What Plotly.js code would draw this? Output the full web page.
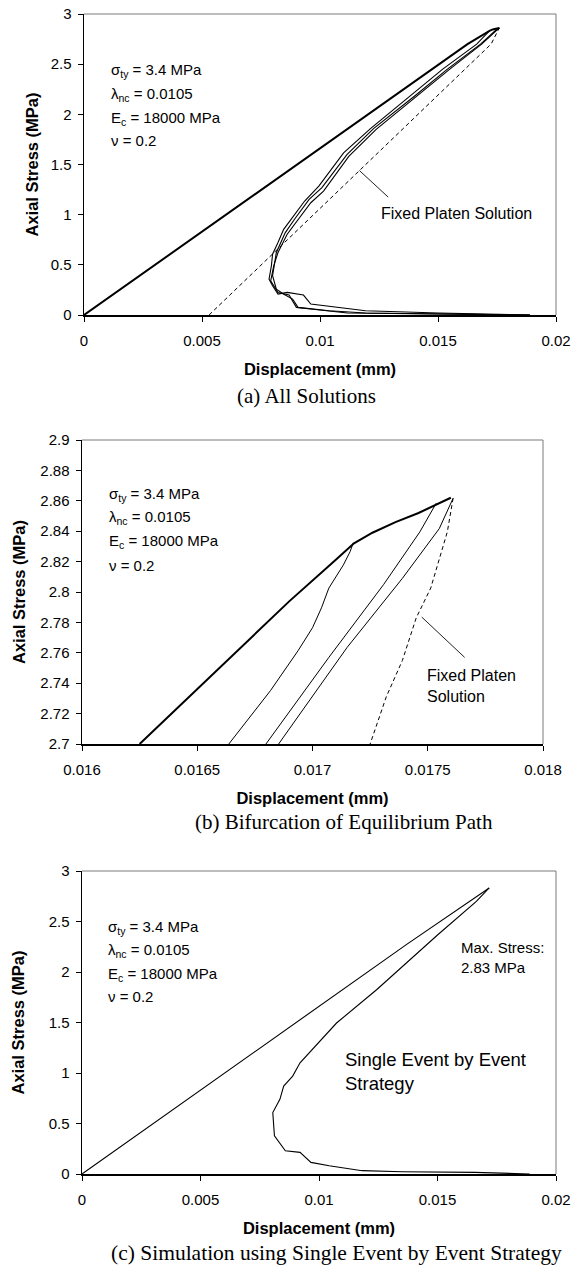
<!DOCTYPE html>
<html>
<head>
<meta charset="utf-8">
<script src="https://cdn.plot.ly/plotly-3.0.1.min.js"></script>
<style>html,body{margin:0;padding:0;background:#fff;}#chart{width:573px;height:1269px;}</style>
</head>
<body>
<div id="chart"></div>
<script>
// ---------- Tick labels ----------
const xTicksA = [0, 0.005, 0.01, 0.015, 0.02];
const xTickTextA = ['0', '0.005', '0.01', '0.015', '0.02'];
const yTicksA = [0, 0.5, 1, 1.5, 2, 2.5, 3];
const yTickTextA = ['0', '0.5', '1', '1.5', '2', '2.5', '3'];
const xTicksB = [0.016, 0.0165, 0.017, 0.0175, 0.018];
const xTickTextB = ['0.016', '0.0165', '0.017', '0.0175', '0.018'];
const yTicksB = [2.7, 2.72, 2.74, 2.76, 2.78, 2.8, 2.82, 2.84, 2.86, 2.88, 2.9];
const yTickTextB = ['2.7', '2.72', '2.74', '2.76', '2.78', '2.8', '2.82', '2.84', '2.86', '2.88', '2.9'];

// ---------- Panel (a): All Solutions ----------
const loadA_x = [0, 0.01625, 0.01718, 0.01732, 0.01754, 0.0176];
const loadA_y = [0, 2.7, 2.832, 2.846, 2.858, 2.862];
const softA1_x = [0.01718, 0.01664, 0.0152, 0.0138, 0.01215, 0.0110, 0.00995, 0.00935, 0.00886, 0.00846, 0.00822, 0.00799, 0.00794, 0.00784, 0.00799, 0.00822, 0.00861, 0.00930, 0.00961, 0.01039, 0.01193, 0.01502, 0.01889];
const softA1_y = [2.832, 2.7, 2.45, 2.18, 1.86, 1.616, 1.285, 1.136, 0.987, 0.854, 0.722, 0.606, 0.490, 0.358, 0.291, 0.209, 0.225, 0.199, 0.109, 0.086, 0.043, 0.020, 0];
const softA2_x = [0.01754, 0.0168, 0.0154, 0.0140, 0.01228, 0.01115, 0.01008, 0.00954, 0.00892, 0.00853, 0.00815, 0.00807, 0.00799, 0.00815, 0.00845, 0.00884, 0.00907, 0.01039, 0.01193, 0.01889];
const softA2_y = [2.858, 2.7, 2.45, 2.18, 1.86, 1.60, 1.27, 1.152, 0.954, 0.821, 0.623, 0.490, 0.391, 0.258, 0.209, 0.159, 0.076, 0.043, 0.020, 0];
const softA3_x = [0.0176, 0.01685, 0.0155, 0.0141, 0.01238, 0.01122, 0.01015, 0.00961, 0.00899, 0.00861, 0.00822, 0.00804, 0.00791, 0.00822, 0.00869, 0.00900, 0.00961, 0.01116, 0.01889];
const softA3_y = [2.862, 2.7, 2.45, 2.18, 1.85, 1.58, 1.235, 1.119, 0.921, 0.805, 0.623, 0.490, 0.341, 0.225, 0.199, 0.076, 0.060, 0.020, 0];
const fixedA_x = [0.0053, 0.01725, 0.0176];
const fixedA_y = [0, 2.7, 2.862];

// ---------- Panel (b): Bifurcation of Equilibrium Path ----------
const loadB_x = [0.01625, 0.0169, 0.0171, 0.01718, 0.01726, 0.01736, 0.01746, 0.01754, 0.0176];
const loadB_y = [2.7, 2.794, 2.821, 2.832, 2.839, 2.846, 2.852, 2.858, 2.862];
const br1B_x = [0.017177, 0.017163, 0.017134, 0.017071, 0.017039, 0.017000, 0.016937, 0.016818, 0.016637];
const br1B_y = [2.8324, 2.8265, 2.8178, 2.8026, 2.7896, 2.7765, 2.7613, 2.7352, 2.7];
const br2B_x = [0.017537, 0.017466, 0.017308, 0.017071, 0.016798];
const br2B_y = [2.8585, 2.8396, 2.8048, 2.757, 2.7];
const br3B_x = [0.01761, 0.01755, 0.01739, 0.01715, 0.016853];
const br3B_y = [2.8617, 2.8417, 2.809, 2.7635, 2.7];
const fixedB_x = [0.01761, 0.017585, 0.017513, 0.01745, 0.01739, 0.01732, 0.01725];
const fixedB_y = [2.8617, 2.8396, 2.8026, 2.783, 2.755, 2.731, 2.7];

// ---------- Panel (c): Single Event by Event Strategy ----------
const loadC_x = [0, 0.01236, 0.0137, 0.01718];
const loadC_y = [0, 2.054, 2.274, 2.832];
const softC_x = [0.01718, 0.01664, 0.0150, 0.01243, 0.01074, 0.00982, 0.00920, 0.00889, 0.00851, 0.00835, 0.00805, 0.00809, 0.00812, 0.00858, 0.00920, 0.00966, 0.01043, 0.01182, 0.01351, 0.01658, 0.01889];
const softC_y = [2.832, 2.7, 2.366, 1.824, 1.495, 1.265, 1.101, 0.969, 0.871, 0.739, 0.608, 0.476, 0.378, 0.230, 0.214, 0.115, 0.082, 0.033, 0.023, 0.016, 0];

const paramLines = ['σ<sub>ty</sub> = 3.4 MPa', 'λ<sub>nc</sub> = 0.0105', 'E<sub>c</sub> = 18000 MPa', 'ν = 0.2'];

const SANS = '"Liberation Sans", Arial, sans-serif';
const SERIF = '"Liberation Serif", "Times New Roman", serif';
const W = 573, H = 1269;

function line(x, y, xa, ya, width, dash) {
  return {x: x, y: y, xaxis: xa, yaxis: ya, type: 'scatter', mode: 'lines',
          line: {color: '#000', width: width, dash: dash || 'solid'}, hoverinfo: 'skip', showlegend: false};
}

const DASH = '4px,3px';
const data = [
  line(loadA_x, loadA_y, 'x', 'y', 2),
  line(softA1_x, softA1_y, 'x', 'y', 1.1),
  line(softA2_x, softA2_y, 'x', 'y', 1.1),
  line(softA3_x, softA3_y, 'x', 'y', 1.1),
  line(fixedA_x, fixedA_y, 'x', 'y', 1, DASH),
  line(loadB_x, loadB_y, 'x2', 'y2', 2),
  line(br1B_x, br1B_y, 'x2', 'y2', 1),
  line(br2B_x, br2B_y, 'x2', 'y2', 1),
  line(br3B_x, br3B_y, 'x2', 'y2', 1),
  line(fixedB_x, fixedB_y, 'x2', 'y2', 1, DASH),
  line(loadC_x, loadC_y, 'x3', 'y3', 1.1),
  line(softC_x, softC_y, 'x3', 'y3', 1.1)
];

function dom(a, b) { return [a / W, b / W]; }
function ydom(top, bottom) { return [(H - bottom) / H, (H - top) / H]; }
function py(px) { return 1 - px / H; }

function xaxis(domain, range, tv, tt, anchor, standoff) {
  return {domain: domain, range: range, anchor: anchor, tickvals: tv, ticktext: tt,
          showgrid: false, zeroline: false, showline: true, linecolor: '#000', linewidth: 1.5,
          ticks: 'outside', ticklen: 5, tickwidth: 1, tickcolor: '#000',
          tickfont: {family: SANS, size: 15, color: '#000'}, ticklabelstandoff: 6,
          title: {text: '<b>Displacement (mm)</b>', font: {family: SANS, size: 16.5, color: '#000'}, standoff: standoff},
          fixedrange: true};
}
function yaxis(domain, range, tv, tt, anchor, standoff) {
  return {domain: domain, range: range, anchor: anchor, tickvals: tv, ticktext: tt,
          showgrid: false, zeroline: false, showline: true, linecolor: '#000', linewidth: 1.5,
          ticks: 'outside', ticklen: 5, tickwidth: 1, tickcolor: '#000',
          tickfont: {family: SANS, size: 15, color: '#000'}, ticklabelstandoff: 3,
          title: {text: '<b>Axial Stress (MPa)</b>', font: {family: SANS, size: 16.5, color: '#000'}, standoff: standoff},
          fixedrange: true};
}

function frame(xr, yr) {
  return [
    {type: 'line', xref: xr + ' domain', yref: yr + ' domain', x0: 0, x1: 1, y0: 1, y1: 1, line: {color: '#7a7a7a', width: 1}},
    {type: 'line', xref: xr + ' domain', yref: yr + ' domain', x0: 1, x1: 1, y0: 0, y1: 1, line: {color: '#7a7a7a', width: 1}}
  ];
}

const shapes = [].concat(frame('x', 'y'), frame('x2', 'y2'), frame('x3', 'y3'), [
  {type: 'line', xref: 'x', yref: 'y', x0: 0.01167, y0: 1.44, x1: 0.01289, y1: 1.175, line: {color: '#222', width: 1}},
  {type: 'line', xref: 'x2', yref: 'y2', x0: 0.017474, y0: 2.7835, x1: 0.01766, y1: 2.757, line: {color: '#222', width: 1}}
]);

function note(text, x, y, xr, yr, size, xanchor, family) {
  return {text: text, x: x, y: y, xref: xr, yref: yr, showarrow: false, align: 'left',
          xanchor: xanchor || 'left', yanchor: 'middle',
          font: {family: family || SANS, size: size, color: '#000'}};
}

const annotations = [];
function params(xpx, ys) {
  paramLines.forEach(function (t, i) {
    annotations.push(note(t, xpx / W, py(ys[i]), 'paper', 'paper', 15));
  });
}
params(109, [71, 94, 118, 140]);
params(107, [494, 518, 542, 565]);
params(106, [927, 950, 974, 996]);

annotations.push(
  note('Fixed Platen Solution', 0.0158, 1.01, 'x', 'y', 16, 'center'),
  note('Fixed Platen<br>Solution', 0.01749, 2.738, 'x2', 'y2', 16),
  note('Max. Stress:<br>2.83 MPa', 0.01592, 2.14, 'x3', 'y3', 15),
  note('Single Event by Event<br>Strategy', 0.0110, 1.01, 'x3', 'y3', 18.5),
  note('(a) All Solutions', 306 / W, py(396), 'paper', 'paper', 21, 'center', SERIF),
  note('(b) Bifurcation of Equilibrium Path', 344 / W, py(822), 'paper', 'paper', 21, 'center', SERIF),
  note('(c) Simulation using Single Event by Event Strategy', 336 / W, py(1253), 'paper', 'paper', 21.5, 'center', SERIF)
);

const layout = {
  width: W, height: H,
  margin: {l: 0, r: 0, t: 0, b: 0},
  paper_bgcolor: '#fff', plot_bgcolor: '#fff',
  showlegend: false,
  xaxis: xaxis(dom(84, 556), [0, 0.02], xTicksA, xTickTextA, 'y', 16),
  yaxis: yaxis(ydom(14, 315), [0, 3], yTicksA, yTickTextA, 'x', 8),
  xaxis2: xaxis(dom(82, 543), [0.016, 0.018], xTicksB, xTickTextB, 'y2', 16),
  yaxis2: yaxis(ydom(440, 744), [2.7, 2.9], yTicksB, yTickTextB, 'x2', 10),
  xaxis3: xaxis(dom(82, 556), [0, 0.02], xTicksA, xTickTextA, 'y3', 16),
  yaxis3: yaxis(ydom(871, 1174), [0, 3], yTicksA, yTickTextA, 'x3', 20),
  shapes: shapes,
  annotations: annotations
};

Plotly.newPlot('chart', data, layout, {staticPlot: true, displayModeBar: false});
</script>
</body>
</html>
